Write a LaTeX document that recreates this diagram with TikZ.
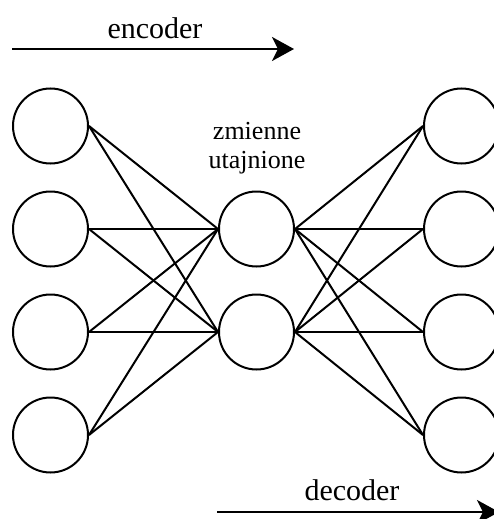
\documentclass[tikz,border=0pt]{standalone}
\usepackage{fontspec}
\setmainfont{Liberation Serif}
\usetikzlibrary{arrows.meta}
\begin{document}
\begin{tikzpicture}[x=1pt,y=-1pt,
  neuron/.style={circle,draw,line width=2pt,minimum size=75pt,inner sep=0pt},
  conn/.style={line width=2pt},
  flow/.style={line width=2.4pt,-{Stealth[length=22pt,width=24pt,inset=6pt]}},
  lbl/.style={font=\fontsize{30}{36}\selectfont,inner sep=0pt},
  zlbl/.style={font=\fontsize{26}{30}\selectfont,inner sep=0pt}]
\useasboundingbox (0,0) rectangle (494,519);
\node[neuron] (l1) at (50.5,126) {};
\node[neuron] (l2) at (50.5,229) {};
\node[neuron] (l3) at (50.5,332) {};
\node[neuron] (l4) at (50.5,435) {};
\node[neuron] (m1) at (256.5,229) {};
\node[neuron] (m2) at (256.5,332) {};
\node[neuron] (r1) at (461.5,126) {};
\node[neuron] (r2) at (461.5,229) {};
\node[neuron] (r3) at (461.5,332) {};
\node[neuron] (r4) at (461.5,435) {};
\foreach \i in {1,2,3,4}{
  \foreach \j in {1,2}{
    \draw[conn] (l\i.east) -- (m\j.west);
    \draw[conn] (m\j.east) -- (r\i.west);
  }
}
\node[zlbl] (z1) at (257,131) {zmienne};
\node[zlbl] (z2) at (257,163) {utajnione};
\coordinate (ea) at (12,49);
\coordinate (eb) at (294,49);
\draw[flow] (ea) -- (eb);
\node[lbl] (enc) at (155,28) {encoder};
\coordinate (da) at (217,512);
\coordinate (db) at (499,512);
\draw[flow] (da) -- (db);
\node[lbl] (dec) at (352,490) {decoder};
\end{tikzpicture}
\end{document}
